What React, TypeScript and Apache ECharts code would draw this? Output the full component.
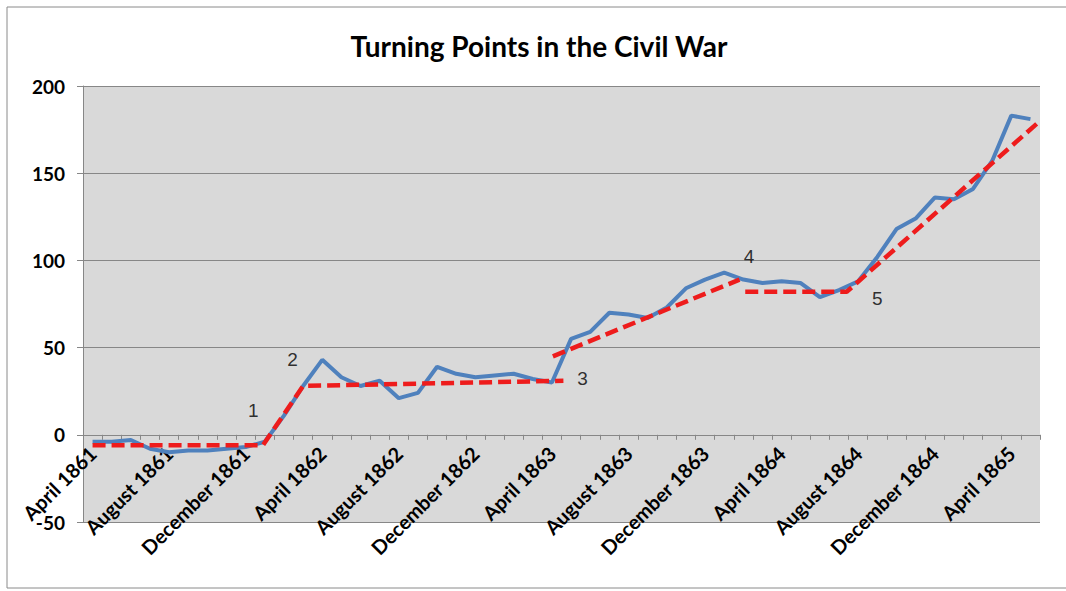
import React, { useEffect, useRef } from "react";
import * as echarts from "echarts";

const MONTH_NAMES = [
  "January", "February", "March", "April", "May", "June",
  "July", "August", "September", "October", "November", "December",
];

// Monthly categories: April 1861 .. May 1865
const categories: string[] = [];
for (let i = 0; i < 50; i++) {
  const m = (3 + i) % 12;
  const y = 1861 + Math.floor((3 + i) / 12);
  categories.push(`${MONTH_NAMES[m]} ${y}`);
}

// Blue line values
const values = [
  -4, -4, -3, -8, -10, -9, -9, -8, -7, -4,
  11, 28, 43, 33, 28, 31, 21, 24, 39, 35,
  33, 34, 35, 32, 30, 55, 59, 70, 69, 67,
  73, 84, 89, 93, 89, 87, 88, 87, 79, 83,
  88, 102, 118, 124, 136, 135, 141, 157, 183, 181,
];

// Red dashed trend segments: [category position, value]
const trendA: [number, number][] = [[0, -6], [8.9, -6], [11, 28], [24.6, 31]];
const trendB: [number, number][] = [[24.05, 45], [33.8, 89]];
const trendC: [number, number][] = [[34.1, 82], [39.4, 82], [49.5, 180]];

// Turning-point annotations: [category position, value, text]
const notes: [number, number, string][] = [
  [8.4, 14, "1"],
  [10.45, 43, "2"],
  [25.6, 32, "3"],
  [34.3, 102, "4"],
  [41.0, 78, "5"],
];

const yTicks = { min: -50, max: 200, interval: 50 };

export default function App() {
  const ref = useRef<HTMLDivElement>(null);

  useEffect(() => {
    document.body.style.margin = "0";
    const chart = echarts.init(ref.current!, null, { renderer: "svg" });
    const gridColor = "#878787";
    const red = "#ee1c1c";
    const gridTop = 86;
    const gridBottom = 69;
    const plotH = 591 - gridTop - gridBottom;
    // distance from plot bottom to the zero line (axis crosses at 0)
    const zeroOffset = (plotH * (0 - yTicks.min)) / (yTicks.max - yTicks.min);
    const trendSeries = (data: [number, number][]) => ({
      type: "line",
      xAxisIndex: 1,
      data,
      symbol: "none",
      z: 5,
      lineStyle: { color: red, width: 4.5, type: [13, 6] },
    });
    chart.setOption({
      animation: false,
      backgroundColor: "#ffffff",
      title: {
        text: "Turning Points in the Civil War",
        left: 534,
        textAlign: "center",
        top: 27,
        textStyle: {
          fontFamily: "Lato",
          fontWeight: "bold",
          fontSize: 28,
          color: "#000000",
        },
      },
      graphic: [
        {
          type: "rect",
          shape: { x: 7, y: 7, width: 1100, height: 581 },
          style: { fill: "transparent", stroke: "#8a8a8a", lineWidth: 1 },
          silent: true,
        },
      ],
      grid: {
        left: 83,
        right: 26,
        top: gridTop,
        bottom: gridBottom,
        show: true,
        backgroundColor: "#d9d9d9",
        borderWidth: 0,
        outerBoundsMode: "none",
        containLabel: false,
      },
      xAxis: [
        {
          type: "category",
          data: categories,
          boundaryGap: true,
          position: "bottom",
          offset: -zeroOffset,
          axisLine: { show: true, onZero: false, lineStyle: { color: gridColor, width: 1 } },
          axisTick: { show: true, interval: 0, length: 5, inside: false, lineStyle: { color: gridColor } },
          axisLabel: {
            interval: 3,
            rotate: 45,
            margin: 15,
            color: "#000000",
            fontFamily: "Lato",
            fontWeight: "bold",
            fontSize: 20,
            hideOverlap: false,
          },
          splitLine: { show: false },
        },
        {
          type: "value",
          min: -0.5,
          max: 49.5,
          show: false,
          splitLine: { show: false },
        },
      ],
      yAxis: {
        type: "value",
        min: yTicks.min,
        max: yTicks.max,
        interval: yTicks.interval,
        axisLine: { show: true, onZero: false, lineStyle: { color: gridColor, width: 1 } },
        axisTick: { show: true, length: 6, lineStyle: { color: gridColor } },
        axisLabel: {
          margin: 18,
          color: "#000000",
          fontFamily: "Lato",
          fontWeight: "bold",
          fontSize: 19,
        },
        splitLine: { show: true, lineStyle: { color: gridColor, width: 1 } },
      },
      series: [
        {
          type: "line",
          xAxisIndex: 0,
          data: values,
          symbol: "none",
          z: 3,
          lineStyle: { color: "#4f81bd", width: 4 },
        },
        trendSeries(trendA),
        trendSeries(trendB),
        trendSeries(trendC),
        {
          type: "scatter",
          xAxisIndex: 1,
          symbolSize: 1,
          itemStyle: { color: "transparent" },
          z: 6,
          data: notes.map(([x, y, t]) => ({ value: [x, y], name: t })),
          label: {
            show: true,
            position: "inside",
            formatter: "{b}",
            color: "#000000",
            fontFamily: "Liberation Sans Narrow, Liberation Sans",
            fontSize: 19,
          },
        },
      ],
    });
    return () => chart.dispose();
  }, []);

  return (
    <div
      ref={ref}
      style={{ position: "absolute", left: 0, top: 0, width: 1066, height: 591 }}
    />
  );
}
